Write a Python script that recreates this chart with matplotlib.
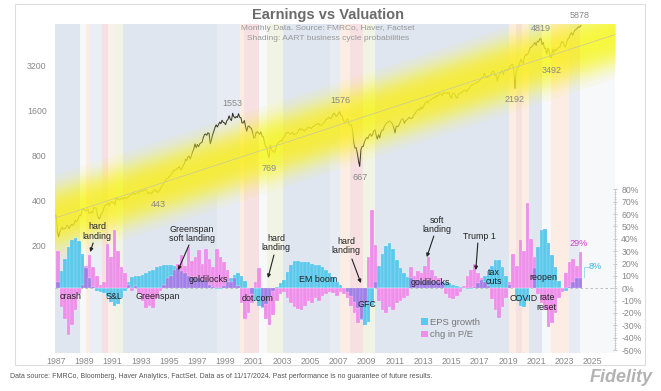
import matplotlib
matplotlib.use('Agg')
import matplotlib.pyplot as plt
import numpy as np
from matplotlib.patches import Patch, Rectangle
from matplotlib.ticker import NullLocator

plt.rcParams['font.family'] = ['Liberation Sans', 'DejaVu Sans']

# ---------------- data ----------------
# S&P 500 monthly level, Sep 1987 .. Nov 2024 (index 0 = Sep 1987)
spx_monthly = [
    321.8, 251.8, 230.3, 247.1,
    257.1, 267.8, 258.9, 261.3, 262.2, 273.5, 272.0, 261.5, 271.9, 278.9, 273.7, 277.7,
    297.5, 288.9, 294.9, 309.6, 320.5, 318.0, 346.1, 351.5, 349.2, 340.4, 346.0, 353.4,
    329.1, 331.9, 339.9, 330.8, 361.2, 358.0, 356.2, 322.6, 306.1, 304.0, 322.2, 330.2,
    343.9, 367.1, 375.2, 375.3, 389.8, 371.2, 387.8, 395.4, 387.9, 392.5, 375.2, 417.1,
    408.8, 412.7, 403.7, 414.9, 415.4, 408.1, 424.2, 414.0, 417.8, 418.7, 431.4, 435.7,
    438.8, 443.4, 451.7, 440.2, 450.2, 450.5, 448.1, 463.6, 458.9, 467.8, 461.8, 466.5,
    481.6, 467.1, 445.8, 450.9, 456.5, 444.3, 458.3, 475.5, 462.7, 472.4, 453.7, 459.3,
    470.4, 487.4, 500.7, 514.7, 533.4, 544.8, 562.1, 561.9, 584.4, 581.5, 605.4, 615.9,
    636.0, 640.4, 645.5, 654.2, 669.1, 670.6, 639.9, 652.0, 687.3, 705.3, 757.0, 740.7,
    786.2, 790.8, 757.1, 801.3, 848.3, 885.1, 954.3, 899.5, 947.3, 914.6, 955.4, 970.4,
    980.3, 1049.3, 1101.8, 1111.8, 1090.8, 1133.8, 1120.7, 957.3, 1017.0, 1098.7, 1163.6, 1229.2,
    1279.6, 1238.3, 1286.4, 1335.2, 1301.8, 1372.7, 1328.7, 1320.4, 1282.7, 1362.9, 1388.9, 1469.3,
    1394.5, 1366.4, 1527.5, 1452.4, 1420.6, 1454.6, 1430.8, 1517.7, 1436.5, 1429.4, 1315.2, 1320.3,
    1366.0, 1239.9, 1160.3, 1249.5, 1255.8, 1224.4, 1211.2, 1133.6, 1040.9, 1059.8, 1139.5, 1148.1,
    1130.2, 1106.7, 1147.4, 1076.9, 1067.1, 989.8, 911.6, 916.1, 815.3, 776.8, 936.3, 879.8,
    855.7, 841.2, 848.2, 916.9, 963.6, 974.5, 990.3, 1008.0, 996.0, 1050.7, 1058.2, 1111.9,
    1131.1, 1144.9, 1126.2, 1107.3, 1120.7, 1140.8, 1101.7, 1104.2, 1114.6, 1130.2, 1173.8, 1211.9,
    1181.3, 1203.6, 1180.6, 1156.9, 1191.5, 1191.3, 1234.2, 1220.3, 1228.8, 1207.0, 1249.5, 1248.3,
    1280.1, 1280.7, 1294.9, 1310.6, 1270.1, 1270.2, 1276.7, 1303.8, 1335.9, 1377.9, 1400.6, 1418.3,
    1438.2, 1406.8, 1420.9, 1482.4, 1530.6, 1503.4, 1455.3, 1474.0, 1526.8, 1565.2, 1481.1, 1468.4,
    1378.6, 1330.6, 1322.7, 1385.6, 1400.4, 1280.0, 1267.4, 1282.8, 1166.4, 968.8, 896.2, 903.3,
    825.9, 735.1, 676.5, 872.8, 919.1, 919.3, 987.5, 1020.6, 1057.1, 1036.2, 1095.6, 1115.1,
    1073.9, 1104.5, 1169.4, 1186.7, 1089.4, 1030.7, 1101.6, 1049.3, 1141.2, 1183.3, 1180.6, 1257.6,
    1286.1, 1327.2, 1325.8, 1363.6, 1345.2, 1320.6, 1292.3, 1218.9, 1131.4, 1253.3, 1247.0, 1257.6,
    1312.4, 1365.7, 1408.5, 1397.9, 1310.3, 1362.2, 1379.3, 1406.6, 1440.7, 1412.2, 1416.2, 1426.2,
    1498.1, 1514.7, 1569.2, 1597.6, 1630.7, 1606.3, 1685.7, 1633.0, 1681.6, 1756.5, 1805.8, 1848.4,
    1782.6, 1859.5, 1872.3, 1884.0, 1923.6, 1960.2, 1930.7, 2003.4, 1972.3, 2018.1, 2067.6, 2058.9,
    1995.0, 2104.5, 2067.9, 2085.5, 2107.4, 2063.1, 2103.8, 1972.2, 1920.0, 2079.4, 2080.4, 2043.9,
    1940.2, 1932.2, 2059.7, 2065.3, 2097.0, 2098.9, 2173.6, 2171.0, 2168.3, 2126.2, 2199.0, 2238.8,
    2278.9, 2363.6, 2362.7, 2384.2, 2411.8, 2423.4, 2470.3, 2471.7, 2519.4, 2575.3, 2647.6, 2673.6,
    2823.8, 2713.8, 2640.9, 2648.1, 2705.3, 2718.4, 2816.3, 2901.5, 2914.0, 2711.7, 2760.2, 2506.9,
    2704.1, 2784.5, 2834.4, 2945.8, 2752.1, 2941.8, 2980.4, 2926.5, 2976.7, 3037.6, 3141.0, 3230.8,
    3225.5, 2954.2, 2237.4, 2912.4, 3044.3, 3100.3, 3271.1, 3500.3, 3363.0, 3270.0, 3621.6, 3756.1,
    3714.2, 3811.2, 3972.9, 4181.2, 4204.1, 4297.5, 4395.3, 4522.7, 4307.5, 4605.4, 4567.0, 4766.2,
    4796.6, 4373.9, 4530.4, 4131.9, 4132.2, 3785.4, 4130.3, 3955.0, 3585.6, 3577.0, 4080.1, 3839.5,
    4076.6, 3970.2, 4109.3, 4169.5, 4179.8, 4450.4, 4589.0, 4507.7, 4288.1, 4193.8, 4567.8, 4769.8,
    4845.7, 5096.3, 5254.4, 5035.7, 5277.5, 5460.5, 5522.3, 5648.4, 5762.5, 5705.5, 5870.0,
]

# quarterly EPS growth (y/y %), first quarter starts Sep 1987
eps_growth_q = [
    5, 14, 24, 33, 39, 41, 38, 28, 16, 8,
    1, -2, -3, -4, -7, -11, -14, -13, -8, -2,
    5, 9, 10, 10, 11, 12, 14, 15, 17, 18,
    19, 19, 19, 18, 16, 14, 12, 10, 9, 8,
    8, 7, 6, 3, 1, -1, -1, 2, 5, 8,
    11, 12, 10, 6, 0, -5, -10, -14, -16, -13,
    -7, -2, 1, 4, 7, 13, 19, 22, 22, 21,
    21, 21, 20, 19, 19, 17, 15, 12, 9, 5,
    3, 0, -3, -6, -11, -16, -26, -30, -27, -14,
    5, 18, 28, 34, 37, 32, 23, 16, 12, 9,
    8, 7, 7, 6, 6, 7, 6, 6, 5, 5,
    5, 4, 3, 2, 1, 0, -1, -1, 1, 4,
    7, 10, 14, 18, 23, 23, 17, 10, 3, 0,
    -10, -14, -15, -10, 0, 16, 33, 47, 48, 37,
    27, 17, 6, 0, -2, 1, 5, 8, 8,
]

# quarterly change in P/E (y/y %)
pe_change_q = [
    30, -15, -25, -38, -30, -18, -5, 3, 18, 27,
    17, 10, 3, 5, 36, 25, 47, 30, 17, 12,
    3, -2, 2, -5, -10, -16, -14, -16, -8, -2,
    3, 8, 10, 15, 20, 27, 18, 33, 22, 25,
    31, 20, 32, 24, 17, 32, 25, 21, 15, 5,
    8, 2, -12, -25, -20, -12, 5, 16, -15, -25,
    -30, -22, -10, -5, -3, -8, -12, -15, -17, -18,
    -14, -10, -12, -8, -10, -6, -5, -3, -4, -6,
    -3, -5, -8, -14, -20, -28, -25, -12, 25, 63,
    35, -10, -18, -20, -15, -18, -12, -10, -8, -6,
    17, 10, 14, 12, 18, 25, 15, 10, 8, 5,
    -5, -8, -9, -6, -3, 2, 10, 15, 20, 12,
    8, 5, 2, -9, -18, -24, -15, -8, 5, 28,
    18, 39, 30, 69, 40, 25, -5, -12, -18, -31,
    -28, -20, -8, -3, 12, 21, 24, 18, 29,
]

year_labels = [str(y) for y in range(1987, 2026, 2)]
price_ticks = [200, 400, 800, 1600, 3200]
pct_ticks = list(range(-50, 81, 10))

# log-linear trend channel (start / end of channel, month index and level)
trend_x = [-1, 475]
trend_y = [307, 5100]

# AART business-cycle shading: month-index start/end and regime
regime_start = [-1, 20, 25, 29, 39, 44, 50, 57, 137, 156, 160, 172, 179, 193, 233, 241, 250, 261, 271, 385, 391, 396, 402, 413, 421, 436, 445]
regime_end = [20, 25, 29, 39, 44, 50, 57, 137, 156, 160, 172, 179, 193, 233, 241, 250, 261, 271, 385, 391, 396, 402, 413, 421, 436, 445, 475]
regime_kind = ['mid', 'none', 'late', 'early', 'rec', 'late2', 'early2', 'mid', 'mid2', 'late', 'rec', 'none', 'early2', 'mid', 'mid2', 'late', 'rec', 'early2', 'mid', 'late', 'rec', 'late', 'mid', 'none', 'late', 'mid2', 'none']

peak_labels = ['1553', '769', '443', '1576', '667', '2192', '4819', '3492', '5878']
peak_pos = [(150, 1788), (181, 660), (87, 380), (242, 1844), (258, 575),
            (390, 1901), (412, 5641), (421, 2963), (445, 6880)]

events = [
    ('hard\nlanding', 35, 46),
    ('crash', 12, -6.3),
    ('S&L', 49, -6.3),
    ('Greenspan', 86, -6.3),
    ('Greenspan\nsoft landing', 115.5, 44),
    ('goldilocks', 129, 7.4),
    ('dot.com', 171.5, -7.9),
    ('hard\nlanding', 187, 36.6),
    ('EM boom', 222.5, 7.4),
    ('hard\nlanding', 246.3, 34),
    ('GFC', 264, -12.8),
    ('soft\nlanding', 323.5, 51),
    ('goldilocks', 318.4, 5.0),
    ('Trump 1', 360, 42.2),
    ('tax\ncuts', 372, 9.1),
    ('COVID', 397.4, -7.9),
    ('reopen', 414.4, 8.3),
    ('rate\nreset', 417, -11.5),
]
arrows = [((31.4, 36.6), (28.9, 29.3)),
          ((112.9, 35.0), (103.6, 14.7)),
          ((185.1, 26.9), (180.0, 8.3)),
          ((251.4, 23.6), (259.0, 4.2)),
          ((321.0, 42.2), (315.0, 25.2)),
          ((358.4, 36.6), (356.7, 14.7))]

# ---------------- styling ----------------
regime_colors = {'mid': '#dfe6f0', 'mid2': '#e7ecf4', 'early': '#eaeff6', 'none': '#f6f8fa',
                 'late': '#fbede3', 'late2': '#f9f0ea', 'rec': '#f6e0e1', 'early2': '#f1f4e5'}
c_eps = '#5cc8ec'
c_pe = '#ee8fea'
c_both = '#a17fe6'

fig = plt.figure(figsize=(6.61, 3.91), dpi=100)
ax = fig.add_axes([55 / 661, 38 / 391, 560 / 661, 329 / 391])

for s, e, k in zip(regime_start, regime_end, regime_kind):
    ax.axvspan(s, e, color=regime_colors[k], lw=0, zorder=0)

months = np.arange(len(spx_monthly))
ax.plot(months, spx_monthly, color='#2a2a2a', lw=0.75, zorder=3)

# glowing trend channel (gaussian-like falloff)
N = 24
sigma = 0.38
for i in range(1, N):
    w = sigma * np.sqrt(2 * np.log(N / i))
    f = 2 ** w
    ax.fill_between(trend_x, [t / f for t in trend_y], [t * f for t in trend_y],
                    color='#fff72a', alpha=0.085, lw=0, zorder=4)
ax.plot(trend_x, trend_y, color='#c9c7a0', lw=0.5, zorder=5)

ax.set_yscale('log')
ax.set_ylim(38.8, 6000)
ax.set_xlim(-1, 475)
ax.set_yticks(price_ticks)
ax.set_yticklabels([str(v) for v in price_ticks])
ax.yaxis.set_minor_locator(NullLocator())
ax.set_xticks(np.arange(0, 24 * len(year_labels), 24))
ax.set_xticklabels(year_labels)
ax.tick_params(axis='both', length=0, labelsize=6.3, labelcolor='#888888')
ax.tick_params(axis='y', pad=6)
ax.tick_params(axis='x', pad=3)
for sp in ax.spines.values():
    sp.set_visible(False)

for txt, (xi, yv) in zip(peak_labels, peak_pos):
    ax.text(xi, yv, txt, ha='center', va='center', fontsize=6.5, color='#888888', zorder=6)

# ---------------- bars ----------------
ax2 = ax.twinx()
e = np.array(eps_growth_q, dtype=float)
p = np.array(pe_change_q, dtype=float)
qx = np.arange(len(e)) * 3
same = np.sign(e) == np.sign(p)
ov = np.where(same, np.sign(e) * np.minimum(np.abs(e), np.abs(p)), 0.0)
ax2.axhline(0, color='#b5b5b5', lw=0.6, ls=(0, (3, 3)), zorder=1)
kw = dict(width=3, align='edge', edgecolor='white', linewidth=0.12, zorder=2)
ax2.bar(qx, e - ov, bottom=ov, color=c_eps, **kw)
ax2.bar(qx, p - ov, bottom=ov, color=c_pe, **kw)
ax2.bar(qx, ov, color=c_both, **kw)

ax2.set_ylim(-52.4, 213.8)
ax2.set_yticks(pct_ticks)
ax2.set_yticklabels([f'{v}%' for v in pct_ticks])
ax2.set_yticks(np.arange(-50, 81, 2), minor=True)
ax2.tick_params(axis='y', which='major', length=3, direction='inout', color='#c8c8c8',
                labelsize=6.3, labelcolor='#888888', pad=3)
ax2.tick_params(axis='y', which='minor', length=1.5, direction='inout', color='#c8c8c8')
for k in ['left', 'top', 'bottom']:
    ax2.spines[k].set_visible(False)
ax2.spines['right'].set_bounds(-50, 80)
ax2.spines['right'].set_color('#c8c8c8')
ax2.spines['right'].set_linewidth(0.6)

for txt, xi, yv in events:
    ax2.text(xi, yv, txt, ha='center', va='center', fontsize=6.4, color='#222222',
             linespacing=1.05, zorder=7)
for (x0, y0), (x1, y1) in arrows:
    ax2.annotate('', xy=(x1, y1), xytext=(x0, y0),
                 arrowprops=dict(arrowstyle='-|>', color='#222222', lw=0.8,
                                 mutation_scale=5, shrinkA=0, shrinkB=0), zorder=7)

ax2.text(444, 35.8, '29%', ha='center', va='center', fontsize=6.6, color='#d23fd2')
ax2.text(458.6, 17.2, '8%', ha='center', va='center', fontsize=6.6, color='#3fb6de')
ax2.plot([449, 449, 453], [9, 17.5, 17.5], color='#8fd6ee', lw=0.6)

ax2.legend(handles=[Patch(fc=c_eps, label='EPS growth'), Patch(fc=c_pe, label='chg in P/E')],
           loc='upper left', bbox_to_anchor=(421 / 661, 1 - 318 / 391),
           bbox_transform=fig.transFigure, frameon=False, fontsize=6.8,
           handlelength=0.7, handleheight=0.7, handletextpad=0.3, labelspacing=0.35,
           borderpad=0, borderaxespad=0, labelcolor='#777777')

# ---------------- titles / frame ----------------
fig.text(328 / 661, 1 - 15 / 391, 'Earnings vs Valuation', ha='center', va='center',
         fontsize=10.5, fontweight='bold', color='#6b6b6b')
fig.text(328 / 661, 1 - 29 / 391, 'Monthly Data. Source: FMRCo, Haver, Factset',
         ha='center', va='center', fontsize=6, color='#999999')
fig.text(328 / 661, 1 - 39 / 391, 'Shading: AART business cycle probabilities',
         ha='center', va='center', fontsize=6, color='#999999')
fig.text(10 / 661, 1 - 377 / 391,
         'Data source: FMRCo, Bloomberg, Haver Analytics, FactSet. Data as of 11/17/2024. '
         'Past performance is no guarantee of future results.',
         ha='left', va='center', fontsize=5, color='#555555')
fig.text(653 / 661, 1 - 377 / 391, 'Fidelity', ha='right', va='center', fontsize=13,
         fontweight='bold', style='italic', color='#b3b3b3')
fig.patches.append(Rectangle((15 / 661, 1 - 365 / 391), 630 / 661, 361 / 391,
                             transform=fig.transFigure, fill=False, ec='#dddddd', lw=0.8))

fig.savefig('out.png', dpi=100)
